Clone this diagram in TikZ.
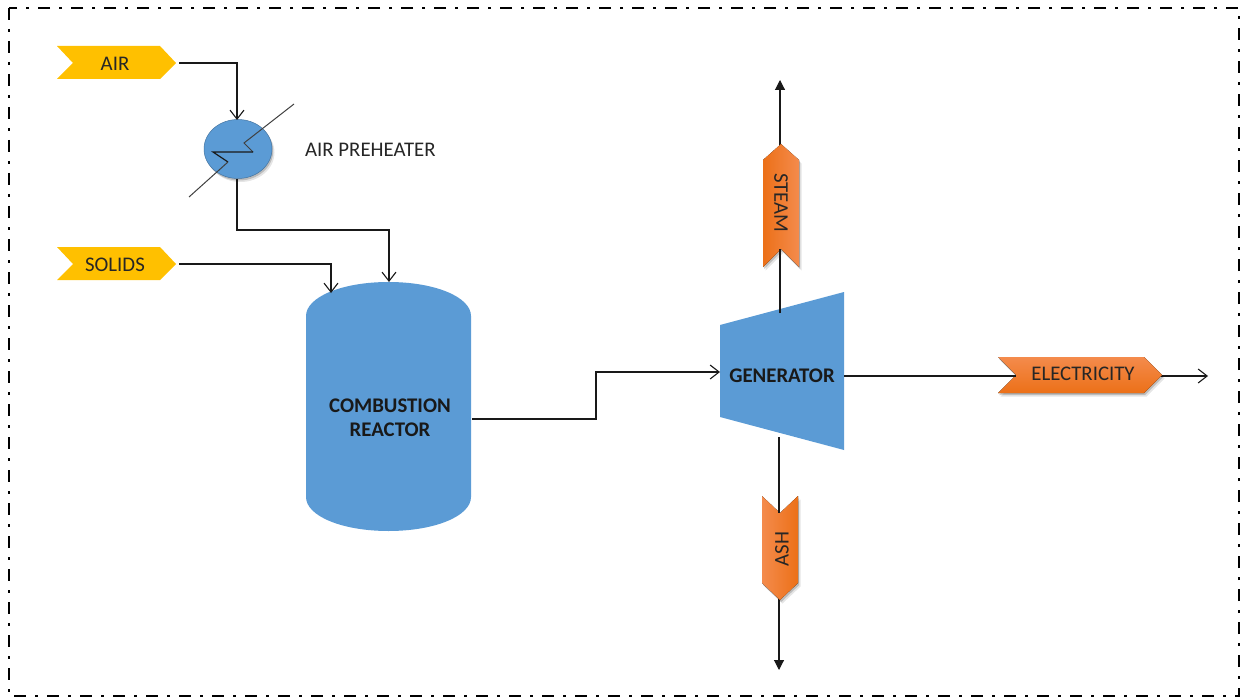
\documentclass[tikz,border=0pt]{standalone}
\usepackage{fontspec}
\setmainfont{Carlito}
\usetikzlibrary{arrows.meta,shapes.geometric,shadows}
\definecolor{bluefill}{HTML}{5B9BD5}
\definecolor{goldfill}{HTML}{FFC000}
\definecolor{orangeA}{HTML}{F48B4C}
\definecolor{orangeB}{HTML}{EC7018}
\tikzset{
  x=1pt,y=-1pt,
  conn/.style={line width=1.1pt,black!90},
  opentip/.style={-{Straight Barb[length=9pt,width=14pt,line width=1.1pt]}},
  solidtip/.style={-{Triangle[length=10pt,width=10pt]}},
  lab/.style={font=\fontsize{20.8}{24}\selectfont,text=black!85,inner sep=0pt},
  boldlab/.style={font=\fontsize{20.8}{24}\selectfont\bfseries,text=black!90,inner sep=0pt,align=center},
  softshadow/.style={
    drop shadow={shadow xshift=2.5pt,shadow yshift=-3.5pt,opacity=.10,fill=black},
    drop shadow={shadow xshift=1.2pt,shadow yshift=-2pt,opacity=.18,fill=black}},
}
\begin{document}
\begin{tikzpicture}
\useasboundingbox (0,0) rectangle (1243,698);
\draw[line width=2.6pt,black,dash pattern=on 12pt off 9pt on 3pt off 9pt] (9,8) rectangle (1239,696);

% gold tags
\fill[goldfill] (57,46) -- (160,46) -- (176,63) -- (160,79) -- (57,79) -- (73,63) -- cycle;
\fill[goldfill] (57,247) -- (160,247) -- (176,264) -- (160,280) -- (57,280) -- (73,264) -- cycle;
\node[lab] (air) at (115,63.5) {AIR};
\node[lab] (solids) at (115,264.5) {SOLIDS};
\coordinate (airout) at (179,63);
\coordinate (solidsout) at (179,264);

% preheater
\node[ellipse,fill=bluefill,draw=bluefill!75!black,line width=.5pt,minimum width=68pt,minimum height=59pt,inner sep=0pt,softshadow] (pre) at (238,149) {};
\coordinate (preT) at (237,120);
\coordinate (preB) at (237,179);
\draw[line width=1pt,black!75] (294,104) -- (244,143) -- (253,152);
\draw[line width=1.2pt,black!90] (253,152) -- (213,152) -- (228,162);
\draw[line width=1pt,black!75] (228,162) -- (189,197);
\node[lab,anchor=west] (prelab) at (305,149.5) {AIR PREHEATER};

% reactor
\fill[bluefill] (306,316) .. controls (306,297) and (342,282) .. (388.5,282)
  .. controls (435,282) and (471,297) .. (471,316) -- (471,497)
  .. controls (471,516) and (435,531) .. (388.5,531)
  .. controls (342,531) and (306,516) .. (306,497) -- cycle;
\node[boldlab] (reactor) at (390,418) {COMBUSTION\\REACTOR};
\coordinate (reactorT) at (389,282);
\coordinate (reactorTL) at (331,293);
\coordinate (reactorR) at (472,419);

% generator
\fill[bluefill] (720,325) -- (844,292) -- (844,450) -- (720,417) -- cycle;
\node[boldlab] (gen) at (782,376) {GENERATOR};
\coordinate (genL) at (720,372);
\coordinate (genR) at (844,376);
\coordinate (genT) at (780,313);
\coordinate (genB) at (779,437);

% connectors behind/around tags
\draw[conn,solidtip] (genT) -- (780,80);
\draw[conn,solidtip] (genB) -- (779,670);
\coordinate (elecout) at (1160,376);
\draw[conn,opentip] (elecout) -- (1208,376);

% orange tags
\fill[left color=orangeB,right color=orangeA,softshadow] (763,160) -- (781,144) -- (799,160) -- (799,267) -- (781,249) -- (763,267) -- cycle;
\draw[conn] (genT) -- (780,249);
\fill[left color=orangeA,right color=orangeB,softshadow] (762,496) -- (780,513) -- (798,496) -- (798,583) -- (780,600) -- (762,583) -- cycle;
\draw[conn] (genB) -- (779,513);
\fill[top color=orangeA,bottom color=orangeB,softshadow] (998,357) -- (1144,357) -- (1162,375) -- (1144,393) -- (998,393) -- (1016,375) -- cycle;
\draw[conn] (genR) -- (1016,376);
\node[lab,rotate=-90] (steam) at (781,203) {STEAM};
\node[lab,rotate=90] (ash) at (782,549) {ASH};
\node[lab] (elec) at (1083,374) {ELECTRICITY};

% flows
\draw[conn,opentip] (airout) -| (preT);
\draw[conn] (preB) |- (313,230);
\draw[conn,opentip] (313,230) -| (reactorT);
\draw[conn,opentip] (solidsout) -| (reactorTL);
\draw[conn,opentip] (reactorR) -- (596,419) -- (596,372) -- (genL);
\end{tikzpicture}
\end{document}
